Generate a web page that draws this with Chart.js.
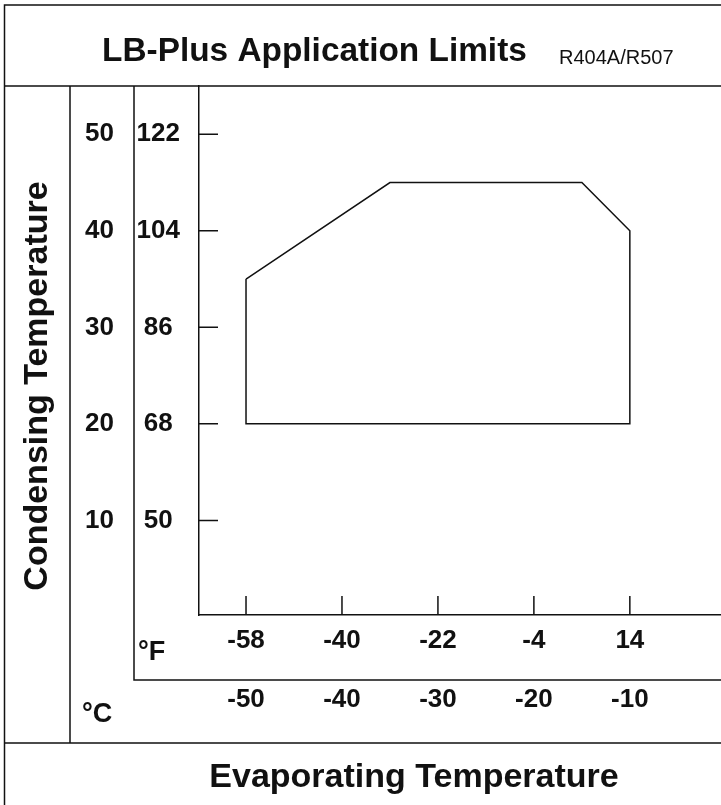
<!DOCTYPE html>
<html>
<head>
<meta charset="utf-8">
<title>LB-Plus Application Limits</title>
<script src="https://cdn.jsdelivr.net/npm/chart.js@4.4.0/dist/chart.umd.min.js"></script>
<style>
    html, body { margin: 0; padding: 0; background: #fff; }
    #wrap { width: 721px; height: 805px; position: relative; }
</style>
</head>
<body>
<div id="wrap"><canvas id="limitsChart"></canvas></div>
<script>
// envelope corners, °C (closed polygon)
const evapC = [-50, -35, -15, -10, -10, -50, -50];
const condC = [35, 45, 45, 40, 20, 20, 35];

// tick labels
const evapTicksC = [-50, -40, -30, -20, -10];
const evapTicksF = [-58, -40, -22, -4, 14];
const condTicksC = [50, 40, 30, 20, 10];
const condTicksF = [122, 104, 86, 68, 50];

// visible axis ranges in °C
const evapRangeC = [-54.9, -0.5];
const condRangeC = [0.2, 55];

const cToF = c => c * 1.8 + 32;
const ink = '#111';
const fontFamily = "'Liberation Sans', Arial, sans-serif";

Chart.defaults.font.family = fontFamily;
Chart.defaults.color = ink;

const envelope = evapC.map((x, i) => ({ x: x, y: condC[i] }));

function tickFont() {
    return { size: 26, weight: 'bold' };
}

// frame, inner tick marks and the free texts
const framePlugin = {
    id: 'frame',
    afterDraw(chart) {
        const ctx = chart.ctx;
        const area = chart.chartArea;
        const s = chart.scales;
        const W = chart.width;
        const H = chart.height;
        const edge = 4.5;

        ctx.save();
        ctx.strokeStyle = ink;
        ctx.lineWidth = 1.5;
        ctx.beginPath();
        ctx.moveTo(edge, H);
        ctx.lineTo(edge, 5);
        ctx.lineTo(W, 5);
        ctx.moveTo(edge, area.top);
        ctx.lineTo(W, area.top);
        ctx.moveTo(edge, s.xC.bottom);
        ctx.lineTo(W, s.xC.bottom);
        ctx.moveTo(s.yC.left, area.top);
        ctx.lineTo(s.yC.left, s.xC.bottom);
        ctx.moveTo(s.yF.left, area.top);
        ctx.lineTo(s.yF.left, s.xF.bottom);
        ctx.lineTo(W, s.xF.bottom);

        // tick marks point into the plot
        evapTicksC.forEach(v => {
            const px = s.xC.getPixelForValue(v);
            ctx.moveTo(px, area.bottom);
            ctx.lineTo(px, area.bottom - 19);
        });
        condTicksC.forEach(v => {
            const py = s.yC.getPixelForValue(v);
            ctx.moveTo(area.left, py);
            ctx.lineTo(area.left + 19, py);
        });
        ctx.stroke();

        ctx.fillStyle = ink;
        ctx.textBaseline = 'alphabetic';
        ctx.textAlign = 'left';
        ctx.font = 'bold 33.4px ' + fontFamily;
        ctx.fillText('LB-Plus Application Limits', 102, 61);
        ctx.font = '20px ' + fontFamily;
        ctx.fillText('R404A/R507', 559, 64);

        ctx.font = 'bold 27px ' + fontFamily;
        ctx.fillText('°F', 138, 660);
        ctx.fillText('°C', 82, 722);

        ctx.textAlign = 'center';
        ctx.font = 'bold 34px ' + fontFamily;
        ctx.fillText('Evaporating Temperature', 414, 787);

        ctx.translate(47, 386);
        ctx.rotate(-Math.PI / 2);
        ctx.fillText('Condensing Temperature', 0, 0);
        ctx.restore();
    }
};

new Chart(document.getElementById('limitsChart'), {
    type: 'scatter',
    data: {
        datasets: [{
            label: 'Application limits',
            data: envelope,
            showLine: true,
            borderColor: ink,
            borderWidth: 1.5,
            pointRadius: 0,
            fill: false,
            tension: 0,
            xAxisID: 'xC',
            yAxisID: 'yC'
        }]
    },
    options: {
        responsive: true,
        maintainAspectRatio: false,
        animation: false,
        layout: { padding: { left: 70, top: 86, right: 0, bottom: 62 } },
        plugins: {
            legend: { display: false },
            tooltip: { enabled: false }
        },
        scales: {
            xF: {
                type: 'linear',
                position: 'bottom',
                weight: 0,
                min: cToF(evapRangeC[0]),
                max: cToF(evapRangeC[1]),
                afterBuildTicks: sc => { sc.ticks = evapTicksF.map(v => ({ value: v })); },
                afterFit: sc => { sc.height = 65; },
                grid: { display: false, drawTicks: false },
                border: { display: true, color: ink, width: 1.5 },
                ticks: { font: tickFont(), padding: 10, autoSkip: false, maxRotation: 0, callback: v => String(v) }
            },
            xC: {
                type: 'linear',
                position: 'bottom',
                weight: 1,
                min: evapRangeC[0],
                max: evapRangeC[1],
                afterBuildTicks: sc => { sc.ticks = evapTicksC.map(v => ({ value: v })); },
                afterFit: sc => { sc.height = 63; },
                grid: { display: false, drawTicks: false },
                border: { display: false },
                ticks: { font: tickFont(), padding: 4, autoSkip: false, maxRotation: 0, callback: v => String(v) }
            },
            yF: {
                type: 'linear',
                position: 'left',
                weight: 0,
                min: cToF(condRangeC[0]),
                max: cToF(condRangeC[1]),
                afterBuildTicks: sc => { sc.ticks = condTicksF.map(v => ({ value: v })); },
                afterFit: sc => { sc.width = 65; },
                grid: { display: false, drawTicks: false },
                border: { display: true, color: ink, width: 1.5 },
                ticks: { font: tickFont(), padding: 19, crossAlign: 'center', autoSkip: false, callback: v => String(v) }
            },
            yC: {
                type: 'linear',
                position: 'left',
                weight: 1,
                min: condRangeC[0],
                max: condRangeC[1],
                afterBuildTicks: sc => { sc.ticks = condTicksC.map(v => ({ value: v })); },
                afterFit: sc => { sc.width = 64; },
                grid: { display: false, drawTicks: false },
                border: { display: false },
                ticks: { font: tickFont(), padding: 20, crossAlign: 'center', autoSkip: false, callback: v => String(v) }
            }
        }
    },
    plugins: [framePlugin]
});
</script>
</body>
</html>
